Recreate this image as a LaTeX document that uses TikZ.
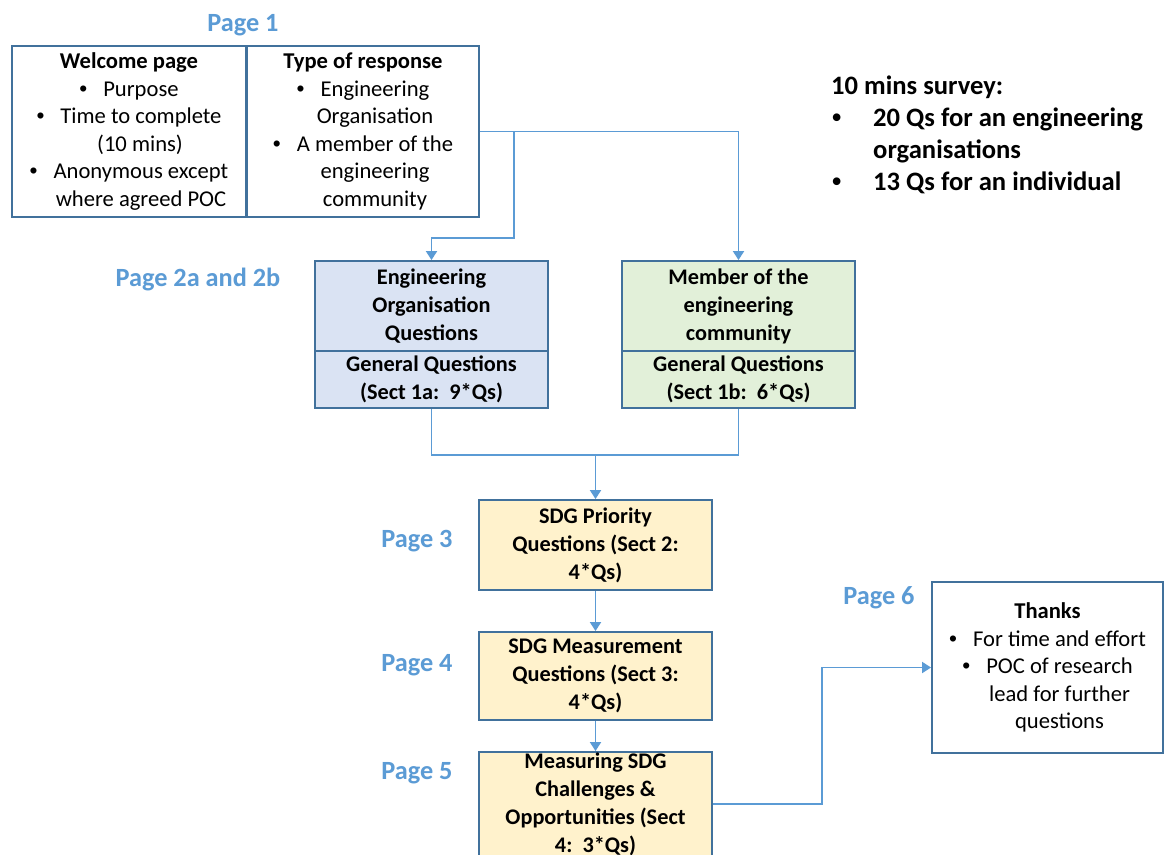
\documentclass[tikz,border=0pt]{standalone}
\usepackage{fontspec}
\setmainfont{Carlito}
\newfontfamily\bulfont{Liberation Sans}
\newcommand\bul{{\bulfont\textbullet}}
\usetikzlibrary{arrows.meta}
\definecolor{pagec}{HTML}{5B9BD5}
\definecolor{boxc}{HTML}{41719C}
\definecolor{linec}{HTML}{5B9BD5}
\definecolor{bluef}{HTML}{DAE3F3}
\definecolor{greenf}{HTML}{E2F0D9}
\definecolor{yellowf}{HTML}{FFF2CC}
\begin{document}
\begin{tikzpicture}[x=1pt,y=-1pt,
  box/.style={draw=boxc, line width=1.9pt, inner sep=0pt, align=center, font=\fontsize{22.6}{27.5}\selectfont},
  bbox/.style={box, font=\fontsize{22.3}{28}\selectfont\bfseries},
  pagelab/.style={text=pagec, inner sep=0pt, font=\fontsize{26.3}{30}\selectfont\bfseries},
  conn/.style={draw=linec, line width=1.9pt},
  arr/.style={conn, -{Triangle[width=11pt,length=9pt]}}
]
\clip (0,0) rectangle (1164,854);
\fill[white] (0,0) rectangle (1164,854);

% Page labels
\node[pagelab] (p1) at (243,25) {Page 1};
\node[pagelab] (p2) at (198,279) {Page 2a and 2b};
\node[pagelab] (p3) at (417,541) {Page 3};
\node[pagelab] (p4) at (417,665) {Page 4};
\node[pagelab] (p5) at (417,773) {Page 5};
\node[pagelab] (p6) at (879,598) {Page 6};

% Page 1 boxes
\node[box, minimum width=234pt, minimum height=171pt] (welcome) at (129,131.5)
  {\textbf{Welcome page}\\
   \bul\hspace{16pt}Purpose\\
   \bul\hspace{16pt}Time to complete\\
   \hspace*{22pt}(10 mins)\\
   \bul\hspace{16pt}Anonymous except\\
   \hspace*{24pt}where agreed POC};
\node[box, minimum width=232pt, minimum height=171pt] (type) at (363,131.5)
  {\textbf{Type of response}\\
   \bul\hspace{16pt}Engineering\\
   \hspace*{24pt}Organisation\\
   \bul\hspace{16pt}A member of the\\
   \hspace*{24pt}engineering\\
   \hspace*{24pt}community};

% Page 2 boxes
\node[bbox, fill=bluef, minimum width=233pt, minimum height=90pt] (eot) at (431.5,306)
  {Engineering\\Organisation\\Questions};
\node[bbox, fill=bluef, minimum width=233pt, minimum height=57pt] (eob) at (431.5,379.5)
  {General Questions\\(Sect 1a:\ \ 9*Qs)};
\node[bbox, fill=greenf, minimum width=233pt, minimum height=90pt] (mt) at (738.5,306)
  {Member of the\\engineering\\community};
\node[bbox, fill=greenf, minimum width=233pt, minimum height=57pt] (mb) at (738.5,379.5)
  {General Questions\\(Sect 1b:\ \ 6*Qs)};

% Pages 3-5
\node[bbox, fill=yellowf, minimum width=233pt, minimum height=90pt] (prio) at (595.5,545)
  {SDG Priority\\Questions (Sect 2:\\4*Qs)};
\node[bbox, fill=yellowf, minimum width=233pt, minimum height=88pt] (meas) at (595.5,676)
  {SDG Measurement\\Questions (Sect 3:\\4*Qs)};
\node[bbox, fill=yellowf, minimum width=233pt, minimum height=104pt] (chal) at (595.5,804)
  {Measuring SDG\\Challenges \&\\Opportunities (Sect\\4:\ \ 3*Qs)};

% Page 6
\node[box, minimum width=231pt, minimum height=171pt] (thanks) at (1047.5,667.5)
  {\textbf{Thanks}\\
   \bul\hspace{16pt}For time and effort\\
   \bul\hspace{16pt}POC of research\\
   \hspace*{24pt}lead for further\\
   \hspace*{24pt}questions};

% Survey note
\node[anchor=west, inner sep=0pt, align=left, font=\fontsize{26.6}{32}\selectfont\bfseries] (survey) at (831,134.5)
  {10 mins survey:\\
   \makebox[42pt][l]{\hspace{1pt}\bul}20 Qs for an engineering\\
   \hspace*{42pt}organisations\\
   \makebox[42pt][l]{\hspace{1pt}\bul}13 Qs for an individual};

% Connectors
\coordinate (j1) at (514,131.5);
\coordinate (j2) at (514,238);
\coordinate (m) at (595.5,455);
\coordinate (k) at (822,740);
\draw[arr] (type.east) -| (mt.north);
\draw[arr] (j1) -- (j2) -| (eot.north);
\draw[conn] (eob.south) |- (m) -| (mb.south);
\draw[arr] (m) -- (prio.north);
\draw[arr] (prio.south) -- (meas.north);
\draw[arr] (meas.south) -- (chal.north);
\draw[arr] (chal.east) -| (k) |- (thanks.west);
\end{tikzpicture}
\end{document}
